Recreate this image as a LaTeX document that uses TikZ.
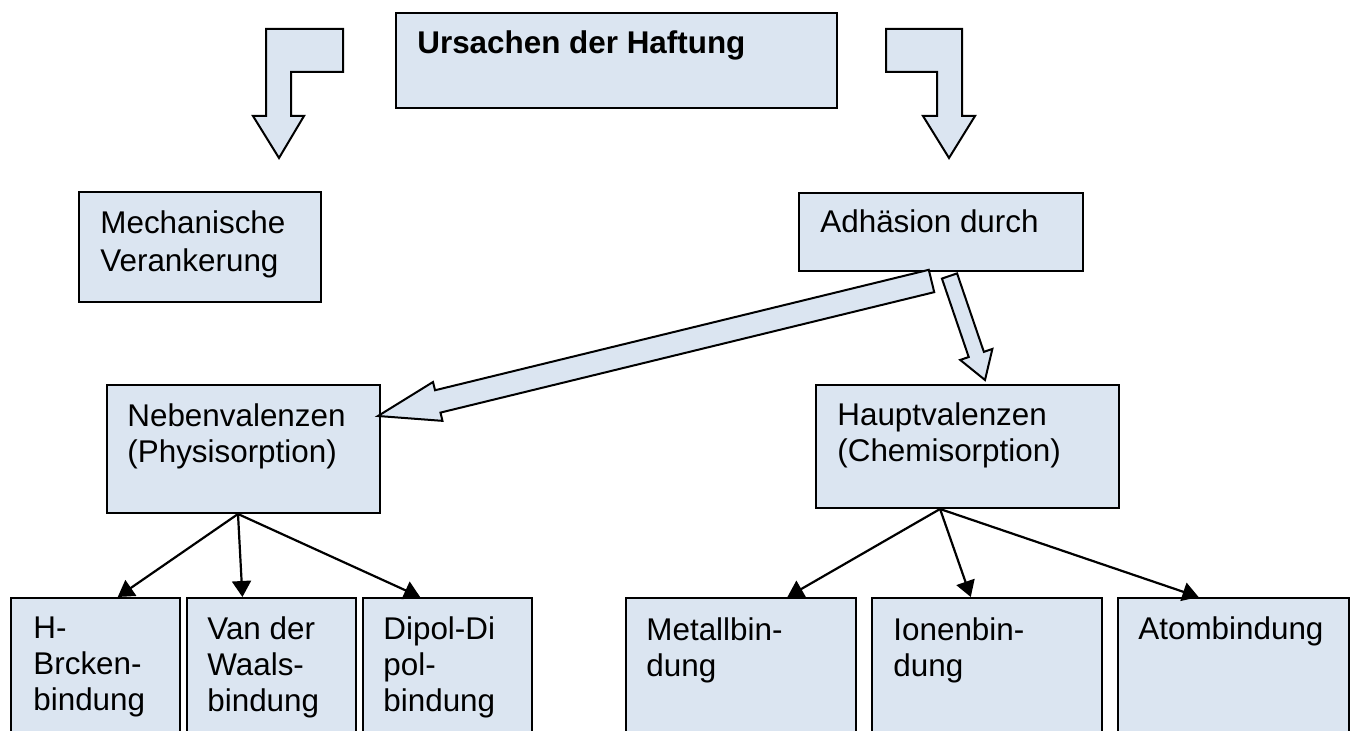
\documentclass[tikz,border=0pt]{standalone}
\usepackage{fontspec}
\setmainfont{Liberation Sans}
\usetikzlibrary{calc,arrows.meta}
\definecolor{boxfill}{HTML}{DBE5F1}
\newcommand{\blockarr}[5]{%
  \coordinate (bh) at ($(#2)!#5!(#1)$);
  \draw[blk] ($(#1)!#3!90:(#2)$) -- ($(bh)!#3!90:(#2)$) -- ($(bh)!#4!90:(#2)$) -- (#2)
    -- ($(bh)!#4!-90:(#2)$) -- ($(bh)!#3!-90:(#2)$) -- ($(#1)!#3!-90:(#2)$) -- cycle;}
\begin{document}
\begin{tikzpicture}[x=0.5pt,y=-0.5pt,
  bx/.style 2 args={draw=black,line width=1pt,fill=boxfill,inner sep=0pt,anchor=north west,
     minimum width=#1*0.5pt,minimum height=#2*0.5pt},
  txt/.style={inner sep=0pt,anchor=north west,align=left,font=\fontsize{15.7}{18}\selectfont},
  txtw/.style={txt,font=\fontsize{15.7}{19}\selectfont},
  txtb/.style={txt,font=\fontsize{15.7}{18}\selectfont\bfseries},
  blk/.style={draw=black,line width=1pt,fill=boxfill,line join=miter},
  con/.style={draw=black,line width=1.1pt,-{Triangle[length=8pt,width=9.5pt]}}]
\useasboundingbox (0,0) rectangle (1354,731);

% boxes
\node[bx={441}{95}] (top) at (395,12) {};
\node[txtb] (topt) at (417,30.5) {Ursachen der Haftung};

\node[bx={242}{110}] (mech) at (78,191) {};
\node[txtw] (mecht) at (100,210.5) {Mechanische\\Verankerung};

\node[bx={284}{78}] (adh) at (798,192) {};
\node[txt] (adht) at (820,209.5) {Adhäsion durch};

\node[bx={273}{128}] (neben) at (106,384) {};
\node[txt] (nebent) at (127,403) {Nebenvalenzen\\(Physisorption)};

\node[bx={303}{123}] (haupt) at (815,384) {};
\node[txt] (hauptt) at (837,402.5) {Hauptvalenzen\\(Chemisorption)};

\node[bx={169}{180}] (hb) at (10,597) {};
\node[txt] (hbt) at (33,616) {H-\\Brcken-\\bindung};
\node[bx={169}{180}] (vdw) at (186,597) {};
\node[txt] (vdwt) at (207,616) {Van der\\Waals-\\bindung};
\node[bx={169}{180}] (dip) at (362,597) {};
\node[txt] (dipt) at (383,616) {Dipol-Di\\pol-\\bindung};

\node[bx={230}{180}] (met) at (625,597) {};
\node[txt] (mett) at (646,617) {Metallbin-\\dung};
\node[bx={230}{180}] (ion) at (871,597) {};
\node[txt] (iont) at (893,617) {Ionenbin-\\dung};
\node[bx={231}{180}] (atom) at (1117,597) {};
\node[txt] (atomt) at (1138,616) {Atombindung};

% L-shaped block arrows from title
\draw[blk] (343,29) -- (266,29) -- (266,116) -- (253,116) -- (279,158) -- (304,116)
  -- (291,116) -- (291,72) -- (343,72) -- cycle;
\draw[blk] (886,29) -- (962,29) -- (962,116) -- (975,116) -- (949,158) -- (923,116)
  -- (937,116) -- (937,72) -- (886,72) -- cycle;

% block arrows from Adhaesion
\coordinate (a1s) at (931.5,281);
\coordinate (a1e) at (378,416);
\blockarr{a1s}{a1e}{5.75pt}{10pt}{30.75pt}
\coordinate (a2s) at (949.5,276);
\coordinate (a2e) at (985,380);
\blockarr{a2s}{a2e}{4pt}{8.5pt}{13.5pt}

% thin connectors
\coordinate (ns) at ($(neben.south west)!0.48!(neben.south east)$);
\draw[con] (ns) -- ($(hb.north west)!0.63!(hb.north east)$);
\draw[con] (ns) -- ($(vdw.north west)!0.33!(vdw.north east)$);
\draw[con] (ns) -- ($(dip.north west)!0.34!(dip.north east)$);
\coordinate (hs) at ($(haupt.south west)!0.41!(haupt.south east)$);
\draw[con] (hs) -- ($(met.north west)!0.70!(met.north east)$);
\draw[con] (hs) -- ($(ion.north west)!0.43!(ion.north east)$);
\draw[con] (hs) -- ($(atom.north west)!0.35!(atom.north east)$);
\end{tikzpicture}
\end{document}
